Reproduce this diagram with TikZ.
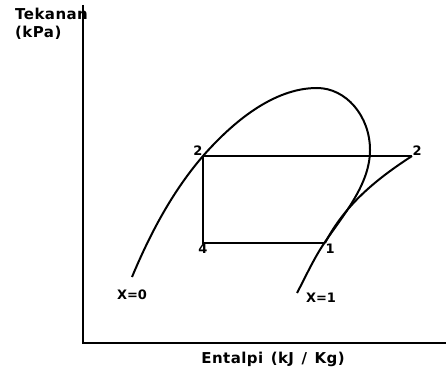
\documentclass[tikz,border=0pt]{standalone}
\usepackage{fontspec}
\setmainfont{DejaVu Sans}
\newfontfamily\plotfont[LetterSpace=3]{DejaVu Sans}
\newcommand\axisfont{\fontsize{15}{18}\plotfont\bfseries\spaceskip 0.5em\relax}
\usetikzlibrary{positioning}

\begin{document}
\begin{tikzpicture}[x=1pt, y=-1pt,
    curve/.style={black, line width=2pt},
    cycleline/.style={black, line width=1.8pt},
    ptlabel/.style={font=\fontsize{13}{15}\selectfont\bfseries, inner sep=0.5pt},
    qlabel/.style={font=\fontsize{13}{15}\selectfont\bfseries, inner sep=0pt},
    axlabel/.style={font=\axisfont, inner sep=0pt}]

% Canvas — same size as the source image
\useasboundingbox (0,0) rectangle (446,374);

% Axes
\coordinate (top) at (83,5);
\coordinate (origin) at (83,343);
\coordinate (right) at (446,343);
\draw[line width=2.2pt] (top) -- (origin) -- (right);

% Axis labels
\node[axlabel, align=left, anchor=north west] (ylab) at (15,8) {Tekanan\\(kPa)};
\node[axlabel, anchor=center] (xlab) at (273,359) {Entalpi (kJ / Kg)};

% Saturation dome (X=0 left, X=1 right)
\coordinate (liq) at (132,277);
\coordinate (peak) at (317,88);
\coordinate (edge) at (370,150);
\coordinate (vap) at (297,293);
\draw[curve] (liq) .. controls (150,234) and (172,192) .. (203,156)
    .. controls (232,123) and (273,88) .. (peak)
    .. controls (346,88) and (370,116) .. (edge)
    .. controls (370,184) and (344,214) .. (325,242)
    .. controls (314,258) and (306,276) .. (vap);

% Cycle points
\coordinate (p2) at (203,156);
\coordinate (p2s) at (412,156);
\coordinate (p4) at (203,243);
\coordinate (p1) at (325,243);

% Compression line 1 -> 2
\draw[curve] (p2s) .. controls (375,180) and (345,205) .. (p1);

% Condenser, expansion, evaporator
\draw[cycleline] (p2) -- (p2s);
\draw[cycleline] (p2) -- (p4) -- (p1);

% Point labels
\node[ptlabel, anchor=south east] (l2) at (p2) {2};
\node[ptlabel, anchor=south west] (l2s) at (p2s) {2};
\node[ptlabel, anchor=north] (l4) at (p4) {4};
\node[ptlabel, anchor=north west] (l1) at (p1) {1};

% Quality labels
\node[qlabel] (x0) at (132,295) {X=0};
\node[qlabel] (x1) at (321,298) {X=1};

\end{tikzpicture}
\end{document}
